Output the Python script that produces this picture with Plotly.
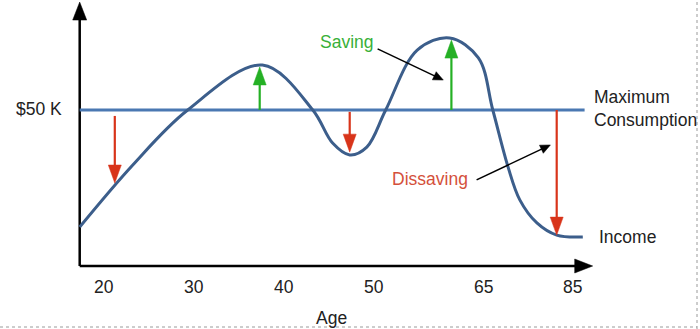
import math
import plotly.graph_objects as go

# Schematic life-cycle income vs. a constant maximum consumption level.
# x is in "age-scale" units (linear from 20 to 50, compressed for older ages),
# y is income in thousands of dollars.

AGE_TICK_POS = [20, 30, 40, 50, 62.2, 72.0]
AGE_TICK_TEXT = ["20", "30", "40", "50", "65", "85"]

INCOME_X = [17.3, 23.2, 29.3, 37.6, 43.2, 45.4, 47.3, 49.2, 51.3, 54.8, 58.4,
            61.6, 63.2, 64.9, 66.2, 68.1, 70.3, 73.2]
INCOME_Y = [12.5, 32.4, 50.0, 64.4, 50.0, 39.4, 35.6, 38.1, 50.0, 69.2, 73.1,
            66.7, 50.0, 31.7, 21.2, 13.8, 9.9, 9.3]

CONSUMPTION_LEVEL = 50.0
CONSUMPTION_X = [17.3, 73.4]

# Gaps between income and consumption: (age position, from, to)
DISSAVING = [(21.2, 48.1, 26.6), (47.3, 49.4, 36.5), (70.3, 50.0, 9.9)]
SAVING = [(37.3, 50.0, 63.8), (58.6, 50.0, 72.4)]

X_RANGE = [8.444, 86.222]
Y_RANGE = [-20.19, 85.26]
W, H = 700, 329
PX_X = W / (X_RANGE[1] - X_RANGE[0])
PX_Y = H / (Y_RANGE[1] - Y_RANGE[0])

BLUE_CURVE = "#3c5e8b"
BLUE_LINE = "#4a78b2"
RED = "#d8341a"
GREEN = "#25b025"
TEXT = "#222222"
FONT = "Liberation Sans, Arial, sans-serif"

fig = go.Figure()


def arrow(x0, y0, x1, y1, color, width, head_len, head_w):
    """Shaft plus a filled triangular head; head sizes are in pixels."""
    dx = (x1 - x0) * PX_X
    dy = (y1 - y0) * PX_Y
    L = math.hypot(dx, dy)
    ux, uy = dx / L, dy / L
    nx, ny = -uy, ux
    bx = x1 - ux * head_len / PX_X
    by = y1 - uy * head_len / PX_Y
    sx = x1 - ux * (head_len - 2) / PX_X
    sy = y1 - uy * (head_len - 2) / PX_Y
    fig.add_trace(go.Scatter(x=[x0, sx], y=[y0, sy], mode="lines",
                             line=dict(color=color, width=width),
                             hoverinfo="skip"))
    hx = [x1, bx + nx * head_w / 2 / PX_X, bx - nx * head_w / 2 / PX_X, x1]
    hy = [y1, by + ny * head_w / 2 / PX_Y, by - ny * head_w / 2 / PX_Y, y1]
    fig.add_trace(go.Scatter(x=hx, y=hy, mode="lines", fill="toself",
                             fillcolor=color, line=dict(color=color, width=0.5),
                             hoverinfo="skip"))


# Axes drawn as arrows
x_axis_end = 74.3
y_axis_end = 84.6
arrow(CONSUMPTION_X[0], 0, x_axis_end, 0, "black", 2.5, 18, 14)
arrow(CONSUMPTION_X[0], 0, CONSUMPTION_X[0], y_axis_end, "black", 2.5, 18, 14)

# Maximum consumption
fig.add_trace(go.Scatter(x=CONSUMPTION_X, y=[CONSUMPTION_LEVEL] * 2, mode="lines",
                         line=dict(color=BLUE_LINE, width=3), hoverinfo="skip"))

# Income
fig.add_trace(go.Scatter(x=INCOME_X, y=INCOME_Y, mode="lines",
                         line=dict(color=BLUE_CURVE, width=3, shape="spline",
                                   smoothing=1.0),
                         hoverinfo="skip"))

for x, a, b in DISSAVING:
    arrow(x, a, x, b, RED, 2.2, 18, 13)
for x, a, b in SAVING:
    arrow(x, a, x, b, GREEN, 2.2, 18, 13)

# Pointers from labels
arrow(50.4, 69.6, 57.7, 59.6, "black", 1.5, 10, 9)
arrow(61.4, 27.6, 69.6, 38.8, "black", 1.5, 10, 9)

annotations = []


def label(text, x, y, color=TEXT, xanchor="center", size=17.5):
    annotations.append(dict(text=text, x=x, y=y, xref="x", yref="y",
                            showarrow=False, xanchor=xanchor, yanchor="middle",
                            align="left",
                            font=dict(family=FONT, size=size, color=color)))


for pos, txt in zip(AGE_TICK_POS, AGE_TICK_TEXT):
    label(txt, pos, -6.7)
label("Age", 45.3, -16.7)
label("$50 K", 15.5, 50.3, xanchor="right")
label("Saving", 47.0, 71.8, color="#38b038")
label("Dissaving", 56.2, 27.9, color="#d4503a")
label("Maximum<br>Consumption", 74.2, 50.6, xanchor="left")
label("Income", 74.8, 9.3, xanchor="left")

fig.update_layout(
    width=W, height=H,
    margin=dict(l=0, r=0, t=0, b=0),
    paper_bgcolor="white", plot_bgcolor="white",
    showlegend=False,
    xaxis=dict(range=X_RANGE, visible=False, fixedrange=True),
    yaxis=dict(range=Y_RANGE, visible=False, fixedrange=True),
    annotations=annotations,
    shapes=[
        dict(type="line", xref="paper", yref="paper", x0=697 / W, x1=697 / W,
             y0=0, y1=1, line=dict(color="#9a9a9a", width=1, dash="dot")),
        dict(type="line", xref="paper", yref="paper", x0=0, x1=697 / W,
             y0=2 / H, y1=2 / H, line=dict(color="#9a9a9a", width=1, dash="dot")),
    ],
)

fig.write_html("out.html")
